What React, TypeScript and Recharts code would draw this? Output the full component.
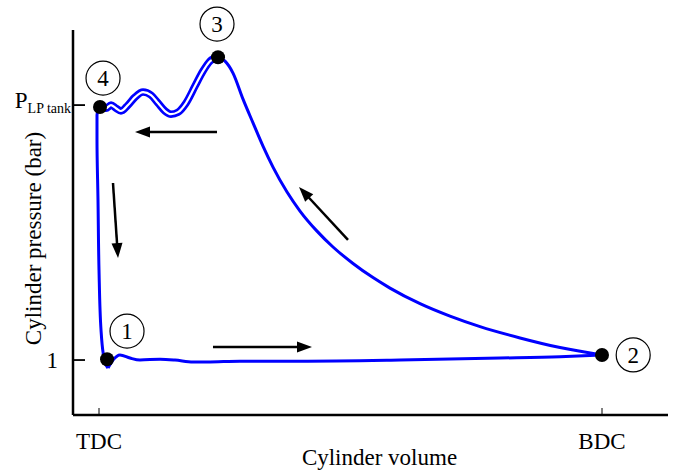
import { ComposedChart, Line, XAxis, YAxis, ReferenceDot, ReferenceLine } from "recharts";

const BLUE = "#0000ff";
const FONT = "'Liberation Serif', 'DejaVu Serif', serif";

// volume in % of stroke (TDC = 0, BDC = 100), pressure in bar (P_LP tank drawn at 10)
const volumeTicks = [0, 100];
const volumeTickLabels = ["TDC", "BDC"];
const pressureTicks = [1, 10];

// 1 -> 2 : intake
const intakeStroke = [
  { v: 1.79, p: 0.72 },
  { v: 2.78, p: 1.0 },
  { v: 4.17, p: 1.18 },
  { v: 6.16, p: 1.07 },
  { v: 8.15, p: 1.0 },
  { v: 12.13, p: 1.03 },
  { v: 15.11, p: 1.0 },
  { v: 18.69, p: 0.93 },
  { v: 21.47, p: 0.93 },
  { v: 28.03, p: 0.96 },
  { v: 39.96, p: 0.96 },
  { v: 59.84, p: 1.0 },
  { v: 79.72, p: 1.07 },
  { v: 91.65, p: 1.12 },
  { v: 100, p: 1.18 },
];

// 2 -> 3 : compression (stored by rising volume)
const compressionStroke = [
  { v: 23.66, p: 11.69 },
  { v: 25.05, p: 11.55 },
  { v: 26.64, p: 11.13 },
  { v: 28.63, p: 10.21 },
  { v: 30.62, p: 9.37 },
  { v: 32.6, p: 8.55 },
  { v: 34.59, p: 7.81 },
  { v: 37.38, p: 6.93 },
  { v: 39.96, p: 6.26 },
  { v: 43.34, p: 5.55 },
  { v: 46.52, p: 4.99 },
  { v: 50.5, p: 4.41 },
  { v: 54.47, p: 3.91 },
  { v: 57.85, p: 3.54 },
  { v: 63.82, p: 2.99 },
  { v: 69.78, p: 2.55 },
  { v: 75.75, p: 2.18 },
  { v: 83.7, p: 1.78 },
  { v: 91.65, p: 1.44 },
  { v: 100, p: 1.18 },
];

// 3 -> 4 : discharge into the LP tank (stored by rising volume)
const dischargeStroke = [
  { v: 0.2, p: 9.93 },
  { v: 1.39, p: 9.89 },
  { v: 2.39, p: 10.0 },
  { v: 3.38, p: 9.89 },
  { v: 4.37, p: 9.79 },
  { v: 5.77, p: 10.0 },
  { v: 7.16, p: 10.28 },
  { v: 8.75, p: 10.46 },
  { v: 10.34, p: 10.35 },
  { v: 11.73, p: 10.07 },
  { v: 13.12, p: 9.79 },
  { v: 14.31, p: 9.68 },
  { v: 15.71, p: 9.75 },
  { v: 17.3, p: 10.07 },
  { v: 19.09, p: 10.67 },
  { v: 20.68, p: 11.2 },
  { v: 22.07, p: 11.55 },
  { v: 23.66, p: 11.69 },
];

// 4 -> 1 : re-expansion (stored by rising pressure)
const expansionStroke = [
  { v: 1.79, p: 0.72 },
  { v: 1.19, p: 0.89 },
  { v: 0.8, p: 1.28 },
  { v: 0.4, p: 2.06 },
  { v: 0, p: 4.18 },
  { v: -0.2, p: 6.65 },
  { v: -0.4, p: 8.77 },
  { v: -0.4, p: 9.65 },
  { v: 0, p: 9.89 },
];

const statePoints = [
  { v: 1.6, p: 1.03 },
  { v: 100, p: 1.18 },
  { v: 23.66, p: 11.69 },
  { v: 0.2, p: 9.93 },
];

const stateLabels = [
  { id: "1", v: 5.57, p: 2.02 },
  { id: "2", v: 106.2, p: 1.18 },
  { id: "3", v: 23.46, p: 12.86 },
  { id: "4", v: 0.8, p: 10.95 },
];

const flowArrows = [
  { v1: 22.66, p1: 1.46, v2: 42.35, p2: 1.46 },
  { v1: 49.5, p1: 5.24, v2: 39.76, p2: 7.11 },
  { v1: 23.46, p1: 9.05, v2: 7.16, p2: 9.05 },
  { v1: 2.78, p1: 7.25, v2: 3.78, p2: 4.6 },
];

function Arrow(props: any) {
  const { x1, y1, x2, y2 } = props;
  const dx = x2 - x1;
  const dy = y2 - y1;
  const len = Math.hypot(dx, dy) || 1;
  const ux = dx / len;
  const uy = dy / len;
  const head = 15;
  const half = 5.5;
  const bx = x2 - ux * head;
  const by = y2 - uy * head;
  return (
    <g>
      <line x1={x1} y1={y1} x2={bx + ux * 2} y2={by + uy * 2} stroke="#000" strokeWidth={2.5} />
      <polygon
        points={`${x2},${y2} ${bx - uy * half},${by + ux * half} ${bx + uy * half},${by - ux * half}`}
        fill="#000"
      />
    </g>
  );
}

function VolumeTick(props: any) {
  const { x, y, index } = props;
  return (
    <g>
      <line x1={x} y1={y - 7} x2={x} y2={y} stroke="#000" strokeWidth={1} />
      <text x={x} y={y + 34} textAnchor="middle" fontFamily={FONT} fontSize={23} fill="#000">
        {volumeTickLabels[index]}
      </text>
    </g>
  );
}

function PressureTick(props: any) {
  const { x, y, payload } = props;
  return (
    <g>
      <line x1={x} y1={y} x2={x + 12} y2={y} stroke="#000" strokeWidth={1.8} />
      {payload.value === 1 ? (
        <text x={x - 15} y={y + 8} textAnchor="end" fontFamily={FONT} fontSize={23} fill="#000">
          1
        </text>
      ) : (
        <text x={x - 2} y={y + 3} textAnchor="end" fontFamily={FONT} fontSize={23} fill="#000">
          <tspan>P</tspan>
          <tspan fontSize={14} dy={5}>
            LP tank
          </tspan>
        </text>
      )}
    </g>
  );
}

export default function App() {
  return (
    <div style={{ position: "absolute", left: 0, top: 0, background: "#fff" }}>
      <ComposedChart width={683} height={470} margin={{ top: 30, right: 15, left: 0, bottom: 0 }}>
        <XAxis
          type="number"
          dataKey="v"
          domain={[-5.17, 113.12]}
          allowDataOverflow
          ticks={volumeTicks}
          interval={0}
          tickLine={false}
          tickSize={0}
          tickMargin={0}
          height={55}
          axisLine={{ stroke: "#000", strokeWidth: 2.5 }}
          tick={(p: any) => <VolumeTick {...p} />}
          label={{
            content: (p: any) => (
              <text
                x={p.viewBox.x + p.viewBox.width / 2 + 9}
                y={p.viewBox.y + 50}
                textAnchor="middle"
                fontFamily={FONT}
                fontSize={23}
                fill="#000"
              >
                Cylinder volume
              </text>
            ),
          }}
        />
        <YAxis
          type="number"
          dataKey="p"
          domain={[-0.94, 12.65]}
          allowDataOverflow
          ticks={pressureTicks}
          interval={0}
          tickLine={false}
          tickSize={0}
          tickMargin={0}
          width={73}
          axisLine={{ stroke: "#000", strokeWidth: 2.5 }}
          tick={(p: any) => <PressureTick {...p} />}
          label={{
            content: (p: any) => {
              const cx = p.viewBox.x + 33;
              const cy = p.viewBox.y + p.viewBox.height / 2 + 16;
              return (
                <text
                  x={cx}
                  y={cy}
                  transform={`rotate(-90, ${cx}, ${cy})`}
                  textAnchor="middle"
                  dominantBaseline="central"
                  fontFamily={FONT}
                  fontSize={23}
                  fill="#000"
                >
                  Cylinder pressure (bar)
                </text>
              );
            },
          }}
        />

        <Line data={compressionStroke} dataKey="p" type="monotoneX" stroke={BLUE} strokeWidth={3} dot={false} activeDot={false} isAnimationActive={false} />
        <Line data={intakeStroke} dataKey="p" type="monotoneX" stroke={BLUE} strokeWidth={3} dot={false} activeDot={false} isAnimationActive={false} />
        <Line data={expansionStroke} dataKey="p" type="monotoneY" stroke={BLUE} strokeWidth={3} dot={false} activeDot={false} isAnimationActive={false} />
        <Line data={dischargeStroke} dataKey="p" type="monotoneX" stroke={BLUE} strokeWidth={7.5} dot={false} activeDot={false} isAnimationActive={false} />
        <Line data={dischargeStroke} dataKey="p" type="monotoneX" stroke="#fff" strokeWidth={2.2} dot={false} activeDot={false} isAnimationActive={false} />

        {flowArrows.map((a, i) => (
          <ReferenceLine
            key={`arrow-${i}`}
            segment={[
              { x: a.v1, y: a.p1 },
              { x: a.v2, y: a.p2 },
            ]}
            ifOverflow="visible"
            shape={Arrow}
          />
        ))}

        {statePoints.map((s, i) => (
          <ReferenceDot key={`pt-${i}`} x={s.v} y={s.p} r={7} fill="#000" stroke="none" ifOverflow="visible" />
        ))}

        {stateLabels.map((s) => (
          <ReferenceDot
            key={`lbl-${s.id}`}
            x={s.v}
            y={s.p}
            r={17}
            ifOverflow="visible"
            shape={(p: any) => (
              <g>
                <circle cx={p.cx} cy={p.cy} r={17} fill="#fff" stroke="#000" strokeWidth={1.2} />
                <text
                  x={p.cx}
                  y={p.cy + 8}
                  textAnchor="middle"
                  fontFamily={FONT}
                  fontSize={23}
                  fill="#000"
                >
                  {s.id}
                </text>
              </g>
            )}
          />
        ))}
      </ComposedChart>
    </div>
  );
}
